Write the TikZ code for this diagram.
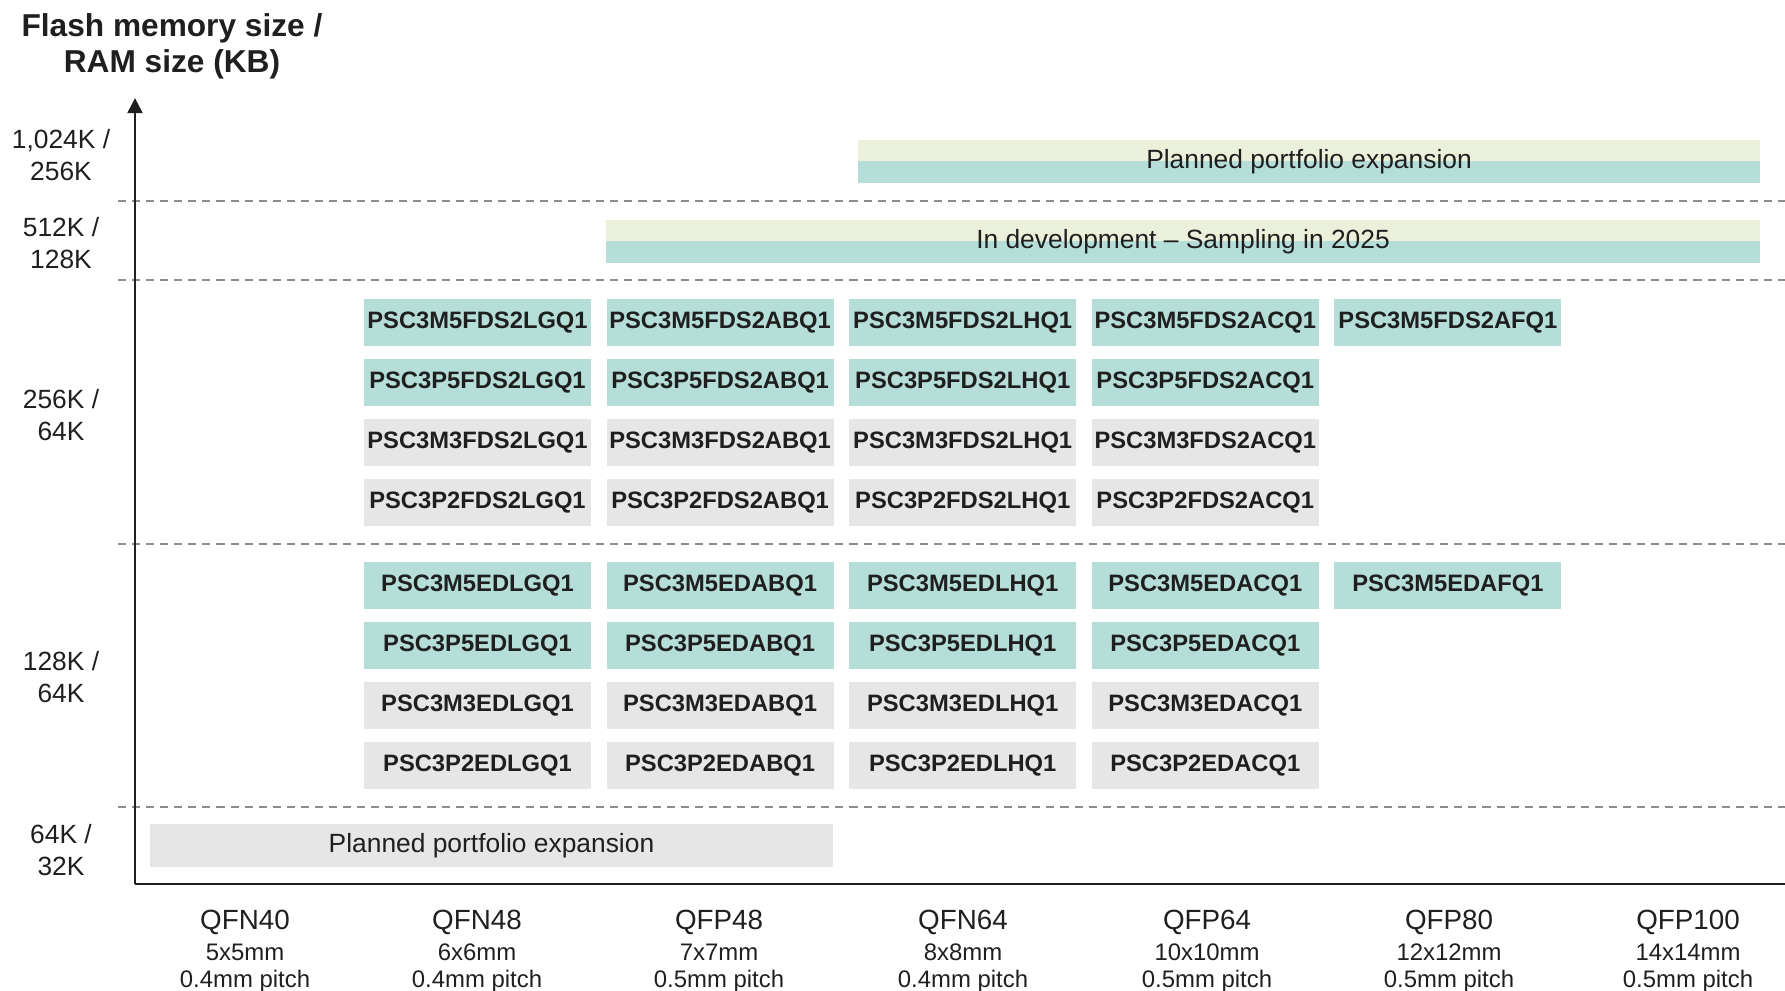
\documentclass[tikz,border=0pt]{standalone}
\usepackage{fontspec}
\setmainfont{Liberation Sans}
\usetikzlibrary{arrows.meta}
\definecolor{tealc}{HTML}{B5DED9}
\definecolor{beigec}{HTML}{EBF0DA}
\definecolor{greyc}{HTML}{E6E6E6}
\definecolor{gridc}{HTML}{8C8C8C}
\definecolor{inkc}{HTML}{1F1F1F}
\begin{document}
\begin{tikzpicture}[x=0.01cm,y=-0.01cm,
  part/.style={minimum width=2.27cm,minimum height=0.467cm,inner sep=0pt,text=inkc,font=\fontsize{6.75}{8}\selectfont\bfseries},
  active/.style={part,fill=tealc},
  legacy/.style={part,fill=greyc},
  band/.style={inner sep=0pt,minimum height=0.427cm,text=inkc,font=\fontsize{7.5}{9}\selectfont},
  twotone/.style={band,fill=beigec,path picture={\fill[tealc] (path picture bounding box.west) rectangle (path picture bounding box.south east);}},
  memlab/.style={anchor=north,inner sep=0pt,align=center,text=inkc,font=\fontsize{7.5}{9.1}\selectfont},
  pkg/.style={anchor=base,inner sep=0pt,text=inkc,font=\fontsize{7.9}{9}\selectfont},
  pkgsub/.style={anchor=base,inner sep=0pt,text=inkc,font=\fontsize{6.8}{8}\selectfont},
  gridline/.style={gridc,line width=0.57pt,dash pattern=on 2.3pt off 1.7pt},
  axis/.style={inkc,line width=0.8pt}]
\useasboundingbox (0,0) rectangle (1785,991);
\node[memlab,font=\fontsize{9}{10.5}\selectfont\bfseries] (title) at (172,12.4) {Flash memory size /\\RAM size (KB)};
\foreach \y in {201,280,544,807}
  \draw[gridline] (118,\y) -- (1785,\y);
\coordinate (origin) at (135,884);
\coordinate (ytip) at (135,98);
\coordinate (xend) at (1785,884);
\draw[axis,-{Triangle[width=4.2pt,length=4.3pt]}] (origin) -- (ytip);
\draw[axis] (origin) -- (xend);
\node[memlab] (m1) at (61,129) {1,024K /\\256K};
\node[memlab] (m2) at (61,217) {512K /\\128K};
\node[memlab] (m3) at (61,389) {256K /\\64K};
\node[memlab] (m4) at (61,651) {128K /\\64K};
\node[memlab] (m5) at (61,824) {64K /\\32K};
\node[twotone,minimum width=9.02cm] (plan) at (1309,161.3) {Planned portfolio expansion};
\node[twotone,minimum width=11.54cm] (dev) at (1183,241.3) {In development -- Sampling in 2025};
\node[band,fill=greyc,minimum width=6.83cm] (low) at (491.5,845.3) {Planned portfolio expansion};
\foreach \suf [count=\i] in {LGQ1,ABQ1,LHQ1,ACQ1}
  \foreach \pre/\st [count=\j] in {M5/active,P5/active,M3/legacy,P2/legacy} {
    \node[\st] (f\j\i) at ({477.5+242.6*(\i-1)},{322.3+60*(\j-1)}) {PSC3\pre FDS2\suf};
    \node[\st] (e\j\i) at ({477.5+242.6*(\i-1)},{585.5+60*(\j-1)}) {PSC3\pre ED\suf};
  }
\node[active] (f15) at (1447.9,322.3) {PSC3M5FDS2AFQ1};
\node[active] (e15) at (1447.9,585.5) {PSC3M5EDAFQ1};
\foreach \x/\pk/\sz/\pitch [count=\k] in {245/QFN40/5x5mm/0.4mm pitch,477/QFN48/6x6mm/0.4mm pitch,719/QFP48/7x7mm/0.5mm pitch,963/QFN64/8x8mm/0.4mm pitch,1207/QFP64/10x10mm/0.5mm pitch,1449/QFP80/12x12mm/0.5mm pitch,1688/QFP100/14x14mm/0.5mm pitch} {
  \node[pkg] (pk\k) at (\x,929.5) {\pk};
  \node[pkgsub] (sz\k) at (\x,960) {\sz};
  \node[pkgsub] (pi\k) at (\x,987) {\pitch};
}
\end{tikzpicture}
\end{document}
